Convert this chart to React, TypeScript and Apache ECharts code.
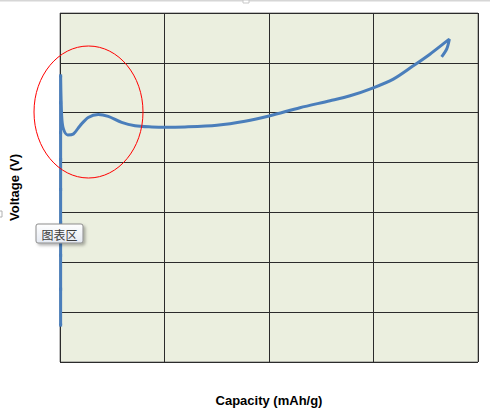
import React, { useEffect, useRef } from "react";
import * as echarts from "echarts";

// Capacity (mAh/g) and Voltage (V)
const capacity = [
  0.3, 0.3, 0.3, 0.3, 0.3, 0.3, 0.3, 0.3, 0.3,
  0.8, 1.6, 3.7, 6.4, 9.6, 13.5, 18.3, 23.1, 29.5, 35.9, 43.9, 50.2, 59.8,
  75.1, 88.5, 100.5, 114.8, 129.2, 138.8, 149.9, 159.5, 169.0, 177.0, 185.8, 186.3,
  185.0, 182.6,
];
const voltage = [
  0.37, 0.73, 1.07, 1.4, 1.73, 2.03, 2.3, 2.6, 2.87,
  2.47, 2.34, 2.277, 2.287, 2.37, 2.453, 2.483, 2.463, 2.403, 2.37, 2.357, 2.353, 2.357,
  2.375, 2.415, 2.47, 2.55, 2.62, 2.67, 2.75, 2.837, 2.97, 3.087, 3.23, 3.237,
  3.137, 3.06,
];
const markedPoints = 9; // points of the vertical segment drawn with small markers

const xTitle = "Capacity (mAh/g)";
const yTitle = "Voltage (V)";
const popupLabel = "图表区";

export default function App() {
  const ref = useRef<HTMLDivElement>(null);
  useEffect(() => {
    if (!ref.current) return;
    const chart = echarts.init(ref.current, undefined, { renderer: "svg" });
    const data = capacity.map((c, i) =>
      i < markedPoints
        ? { value: [c, voltage[i]], symbol: "rect", symbolSize: [3, 3] }
        : { value: [c, voltage[i]], symbol: "none" }
    );
    chart.setOption({
      animation: false,
      backgroundColor: "#ffffff",
      grid: {
        left: 60,
        right: 12,
        top: 13,
        bottom: 52,
        outerBoundsMode: "none",
        containLabel: false,
        show: true,
        backgroundColor: "#EBEFDF",
        borderColor: "#7f7f7f",
        borderWidth: 1,
      },
      xAxis: {
        type: "value",
        min: 0,
        max: 200,
        interval: 50,
        name: xTitle,
        nameLocation: "middle",
        nameGap: 32,
        nameTextStyle: { fontFamily: "Liberation Sans, Arial", fontWeight: "bold", fontSize: 13, color: "#000" },
        axisLine: { show: false },
        axisTick: { show: false },
        axisLabel: { show: false },
        splitLine: { show: true, lineStyle: { color: "#2b2b2b", width: 1 } },
      },
      yAxis: {
        type: "value",
        min: 0,
        max: 3.5,
        interval: 0.5,
        name: yTitle,
        nameLocation: "middle",
        nameGap: 39,
        nameTextStyle: { fontFamily: "Liberation Sans, Arial", fontWeight: "bold", fontSize: 13, color: "#000" },
        axisLine: { show: false },
        axisTick: { show: false },
        axisLabel: { show: false },
        splitLine: { show: true, lineStyle: { color: "#2b2b2b", width: 1 } },
      },
      series: [
        {
          type: "line",
          data,
          smooth: 0.3,
          showSymbol: true,
          lineStyle: { color: "#4A7EBB", width: 3 },
          itemStyle: { color: "#4A7EBB" },
          z: 3,
        },
      ],
      graphic: [
        {
          type: "line",
          shape: { x1: 0, y1: 0.5, x2: 490, y2: 0.5 },
          style: { stroke: "#d6d6d6", lineWidth: 2 },
        },
        {
          type: "rect",
          shape: { x: 243, y: 0, width: 6, height: 3 },
          style: { fill: "#fff", stroke: "#c8c8c8", lineWidth: 1 },
        },
        {
          type: "rect",
          shape: { x: -3, y: 211, width: 5, height: 6 },
          style: { fill: "#fff", stroke: "#b0b0b0", lineWidth: 1 },
        },
        {
          type: "ellipse",
          shape: { cx: 88.5, cy: 112, rx: 54.5, ry: 66 },
          style: { fill: "none", stroke: "#ff0000", lineWidth: 1 },
          z: 10,
        },
        {
          type: "rect",
          shape: { x: 36, y: 224, width: 47, height: 19, r: 2 },
          style: {
            fill: new echarts.graphic.LinearGradient(0, 0, 0, 1, [
              { offset: 0, color: "#ffffff" },
              { offset: 1, color: "#e4e9f2" },
            ]),
            stroke: "#8c8c8c",
            lineWidth: 1,
            shadowBlur: 3,
            shadowOffsetX: 2,
            shadowOffsetY: 2,
            shadowColor: "rgba(0,0,0,0.3)",
          },
          z: 20,
        },
        {
          type: "text",
          x: 59.5,
          y: 234,
          style: {
            text: popupLabel,
            font: '12px "Noto Sans CJK SC"',
            fill: "#3c3c3c",
            align: "center",
            verticalAlign: "middle",
          },
          z: 21,
        },
      ],
    });
    return () => chart.dispose();
  }, []);
  return (
    <div
      ref={ref}
      style={{ position: "fixed", left: 0, top: 0, width: 490, height: 414 }}
    />
  );
}
